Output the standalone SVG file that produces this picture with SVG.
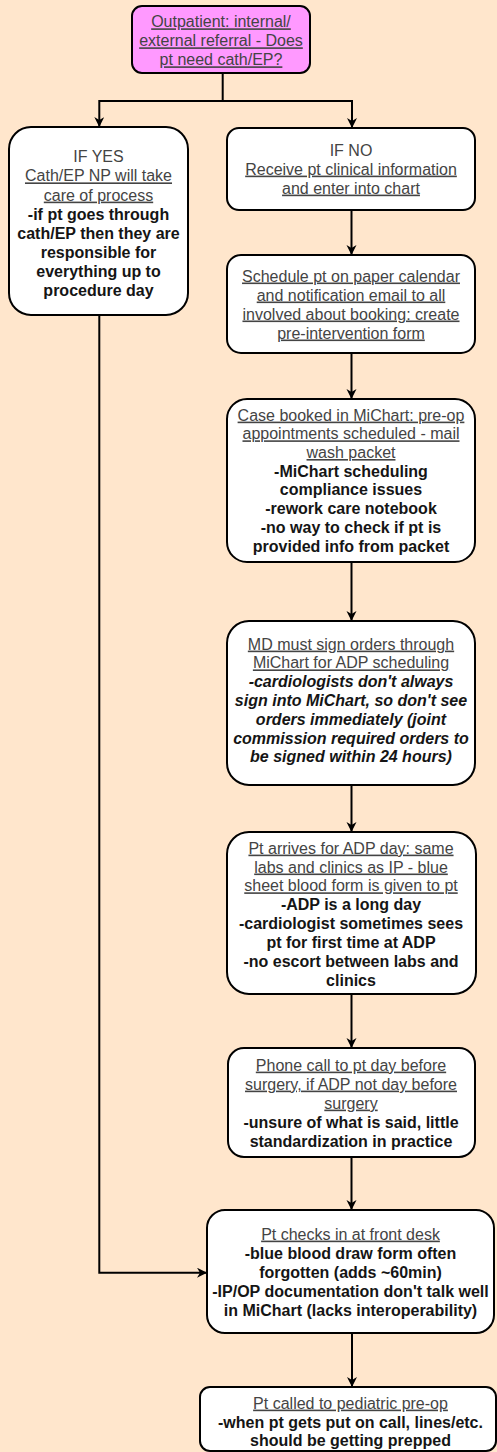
<svg xmlns="http://www.w3.org/2000/svg" width="497" height="1452" viewBox="0 0 497 1452">
<style>
.box{fill:#ffffff;stroke:#000;stroke-width:2}
.t{font-family:"Liberation Sans",Arial,Helvetica,sans-serif;font-size:16px;text-anchor:middle}
.r{fill:#444}
.u{fill:#444;text-decoration:underline}
.b{fill:#151515;font-weight:bold}
.bi{fill:#151515;font-weight:bold;font-style:italic}
.c{fill:none;stroke:#000;stroke-width:2}
</style>
<defs>
<marker id="arr" markerUnits="userSpaceOnUse" markerWidth="12" markerHeight="12" refX="10" refY="5" orient="auto">
<path d="M0,0 L10,5 L0,10 L3,5 Z" fill="#000"/>
</marker>
</defs>
<rect x="0" y="0" width="497" height="1452" fill="#FFE6CC"/>
<g id="connectors">
<path class="c" d="M222.7,73 V101 H99.3 V127" marker-end="url(#arr)"/>
<path class="c" d="M222.7,101 H352 V128" marker-end="url(#arr)"/>
<path class="c" d="M351.5,210 V255" marker-end="url(#arr)"/>
<path class="c" d="M351.5,353 V399" marker-end="url(#arr)"/>
<path class="c" d="M351.5,562 V621" marker-end="url(#arr)"/>
<path class="c" d="M351.5,785 V832" marker-end="url(#arr)"/>
<path class="c" d="M351.5,994 V1048" marker-end="url(#arr)"/>
<path class="c" d="M351.5,1157 V1210" marker-end="url(#arr)"/>
<path class="c" d="M99.3,315 V1272.7 H207" marker-end="url(#arr)"/>
<path class="c" d="M352,1333 V1387" marker-end="url(#arr)"/>
</g>
<g id="n-start">
<rect x="132" y="6" width="178" height="67" rx="10" fill="#FF99FF" stroke="#000" stroke-width="2"/>
<text class="t u" x="221" y="27.3">Outpatient: internal/</text>
<text class="t u" x="221" y="46.3">external referral - Does</text>
<text class="t u" x="221" y="65.3">pt need cath/EP?</text>
</g>
<g id="n-yes">
<rect class="box" x="9" y="127" width="179" height="188" rx="22"/>
<text class="t r" x="98.5" y="162.3">IF YES</text>
<text class="t u" x="98.5" y="181.4">Cath/EP NP will take</text>
<text class="t u" x="98.5" y="200.6">care of process</text>
<text class="t b" x="98.5" y="219.7">-if pt goes through</text>
<text class="t b" x="98.5" y="238.9">cath/EP then they are</text>
<text class="t b" x="98.5" y="258">responsible for</text>
<text class="t b" x="98.5" y="277.1">everything up to</text>
<text class="t b" x="98.5" y="296.3">procedure day</text>
</g>
<g id="n-no">
<rect class="box" x="227" y="128" width="248" height="82" rx="12"/>
<text class="t r" x="351" y="155.6">IF NO</text>
<text class="t u" x="351" y="174.6">Receive pt clinical information</text>
<text class="t u" x="351" y="193.6">and enter into chart</text>
</g>
<g id="n-schedule">
<rect class="box" x="227" y="255" width="248" height="98" rx="14"/>
<text class="t u" x="351" y="281.5">Schedule pt on paper calendar</text>
<text class="t u" x="351" y="300.5">and notification email to all</text>
<text class="t u" x="351" y="319.5">involved about booking: create</text>
<text class="t u" x="351" y="338.5">pre-intervention form</text>
</g>
<g id="n-booked">
<rect class="box" x="227" y="399" width="248" height="163" rx="20"/>
<text class="t u" x="351" y="420.6">Case booked in MiChart: pre-op</text>
<text class="t u" x="351" y="439.3">appointments scheduled - mail</text>
<text class="t u" x="351" y="458">wash packet</text>
<text class="t b" x="351" y="476.7">-MiChart scheduling</text>
<text class="t b" x="351" y="495.4">compliance issues</text>
<text class="t b" x="351" y="514.1">-rework care notebook</text>
<text class="t b" x="351" y="532.8">-no way to check if pt is</text>
<text class="t b" x="351" y="551.5">provided info from packet</text>
</g>
<g id="n-md">
<rect class="box" x="227" y="621" width="248" height="164" rx="22"/>
<text class="t u" x="351" y="649.6">MD must sign orders through</text>
<text class="t u" x="351" y="668.4">MiChart for ADP scheduling</text>
<text class="t bi" x="351" y="687.2">-cardiologists don't always</text>
<text class="t bi" x="351" y="706">sign into MiChart, so don't see</text>
<text class="t bi" x="351" y="724.8">orders immediately (joint</text>
<text class="t bi" x="351" y="743.6">commission required orders to</text>
<text class="t bi" x="351" y="762.4">be signed within 24 hours)</text>
</g>
<g id="n-adp">
<rect class="box" x="227" y="832" width="249" height="162" rx="22"/>
<text class="t u" x="351" y="853.6">Pt arrives for ADP day: same</text>
<text class="t u" x="351" y="872.5">labs and clinics as IP - blue</text>
<text class="t u" x="351" y="891.3">sheet blood form is given to pt</text>
<text class="t b" x="351" y="910.2">-ADP is a long day</text>
<text class="t b" x="351" y="929">-cardiologist sometimes sees</text>
<text class="t b" x="351" y="947.9">pt for first time at ADP</text>
<text class="t b" x="351" y="966.8">-no escort between labs and</text>
<text class="t b" x="351" y="985.6">clinics</text>
</g>
<g id="n-phone">
<rect class="box" x="228" y="1048" width="247" height="109" rx="16"/>
<text class="t u" x="351" y="1070.6">Phone call to pt day before</text>
<text class="t u" x="351" y="1089.6">surgery, if ADP not day before</text>
<text class="t u" x="351" y="1108.6">surgery</text>
<text class="t b" x="351" y="1127.6">-unsure of what is said, little</text>
<text class="t b" x="351" y="1146.6">standardization in practice</text>
</g>
<g id="n-checkin">
<rect class="box" x="207" y="1210" width="287" height="123" rx="18"/>
<text class="t u" x="350.5" y="1239.6">Pt checks in at front desk</text>
<text class="t b" x="350.5" y="1258.6">-blue blood draw form often</text>
<text class="t b" x="350.5" y="1277.6">forgotten (adds ~60min)</text>
<text class="t b" x="350.5" y="1296.6">-IP/OP documentation don't talk well</text>
<text class="t b" x="350.5" y="1315.6">in MiChart (lacks interoperability)</text>
</g>
<g id="n-preop">
<rect class="box" x="200" y="1387" width="296" height="64" rx="10"/>
<text class="t u" x="350.5" y="1408.6">Pt called to pediatric pre-op</text>
<text class="t b" x="350.5" y="1427.6">-when pt gets put on call, lines/etc.</text>
<text class="t b" x="350.5" y="1446.4">should be getting prepped</text>
</g>
</svg>
